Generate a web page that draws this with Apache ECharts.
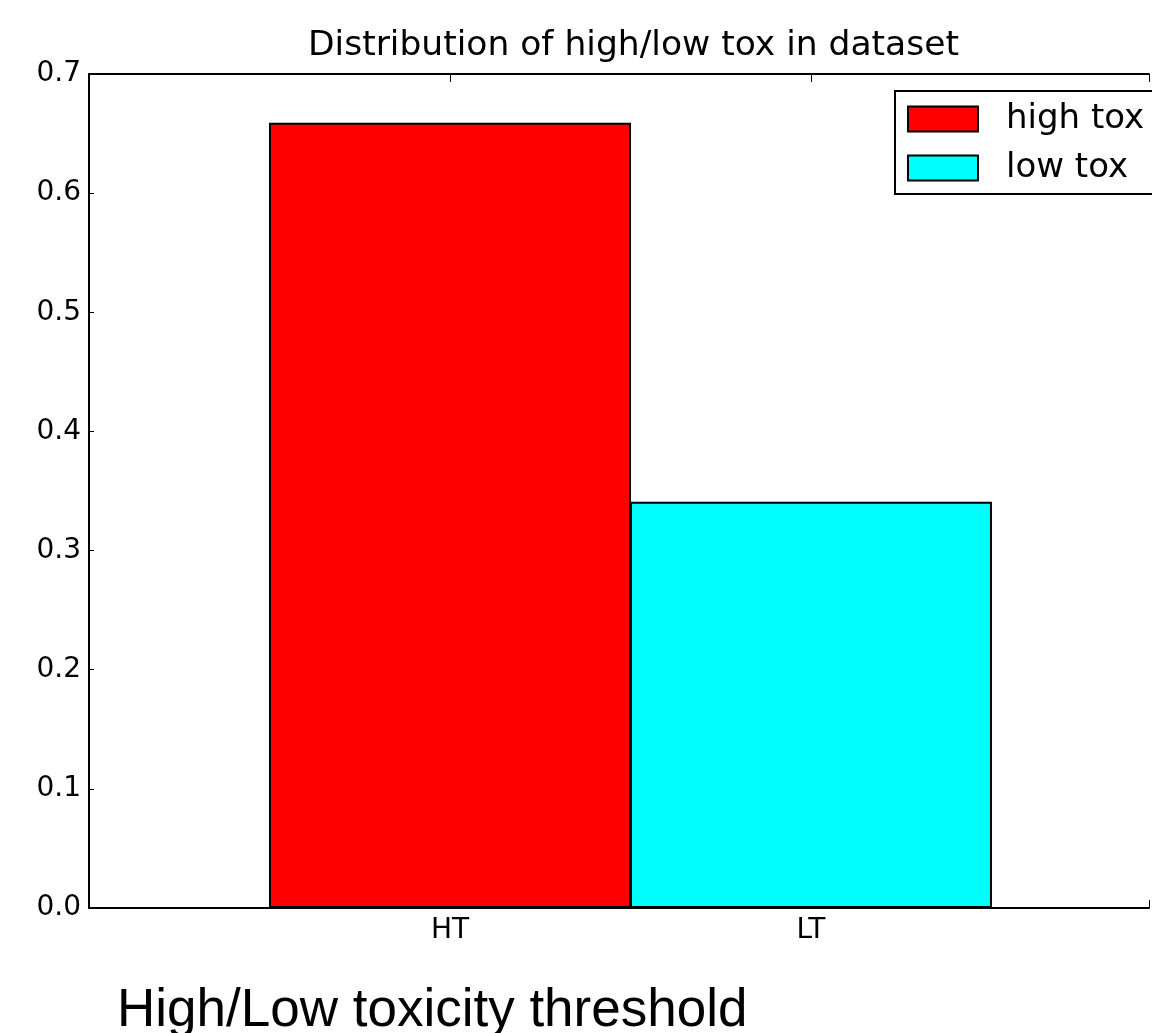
<!DOCTYPE html>
<html>
<head>
<meta charset="utf-8">
<title>Distribution of high/low tox in dataset</title>
<script src="https://cdn.jsdelivr.net/npm/echarts@6/dist/echarts.min.js"></script>
<style>
    html, body { margin: 0; padding: 0; background: #fff; }
    #main { width: 1152px; height: 1033px; }
</style>
</head>
<body>
<div id="main"></div>
<script>
// data
var seriesNames = ['high tox', 'low tox'];
var seriesPos = [1, 2];
var seriesValues = [0.659, 0.341];
var seriesColors = ['#ff0000', '#00ffff'];
var xTickNames = ['', 'HT', 'LT', ''];

var chart = echarts.init(document.getElementById('main'));
var font = 'DejaVu Sans';

// the figure is cut at the right edge: x range 0..3 would need 1086px,
// only 1063px of it are on the page
var xMax = 1063 / 362;

var series = seriesNames.map(function (name, i) {
    return {
        name: name,
        type: 'bar',
        barWidth: 362,
        barGap: '-100%',
        itemStyle: {
            color: seriesColors[i],
            borderColor: '#000',
            borderWidth: 2
        },
        data: [[seriesPos[i], seriesValues[i]]]
    };
});

var xBase = {
    type: 'value',
    min: 0,
    max: xMax,
    interval: 1,
    splitLine: { show: false },
    axisLine: { lineStyle: { color: '#000', width: 2 } },
    axisTick: { inside: true, length: 8, lineStyle: { color: '#000', width: 1 } }
};

var option = {
    animation: false,
    backgroundColor: '#fff',
    title: [
        {
            text: 'Distribution of high/low tox in dataset',
            left: 308,
            top: 29,
            padding: 0,
            textStyle: { fontFamily: font, fontSize: 34.5, fontWeight: 'normal', color: '#000' }
        },
        {
            text: 'High/Low toxicity threshold',
            left: 117,
            top: 985,
            padding: 0,
            textStyle: { fontFamily: 'Liberation Sans', fontSize: 53, fontWeight: 'normal', color: '#000' }
        }
    ],
    legend: {
        orient: 'vertical',
        left: 895,
        top: 91,
        padding: [11, 12, 9, 12],
        itemWidth: 70,
        itemHeight: 25,
        itemGap: 15,
        icon: 'rect',
        borderColor: '#000',
        borderWidth: 2,
        borderRadius: 0,
        backgroundColor: '#fff',
        textStyle: { fontFamily: font, fontSize: 34, color: '#000', padding: [0, 0, 0, 23] },
        data: seriesNames
    },
    grid: { left: 89, top: 74, right: 0, height: 834, containLabel: false },
    xAxis: [
        Object.assign({}, xBase, {
            position: 'bottom',
            axisLabel: {
                margin: 9,
                fontFamily: font,
                fontSize: 28,
                color: '#000',
                formatter: function (v) { return xTickNames[v] || ''; }
            }
        }),
        Object.assign({}, xBase, {
            position: 'top',
            axisLabel: { show: false }
        })
    ],
    yAxis: {
        type: 'value',
        min: 0,
        max: 0.7,
        interval: 0.1,
        splitLine: { show: false },
        axisLine: { show: true, lineStyle: { color: '#000', width: 2 } },
        axisTick: { show: true, inside: true, length: 5, lineStyle: { color: '#000', width: 1 } },
        axisLabel: {
            margin: 8,
            fontFamily: font,
            fontSize: 28,
            color: '#000',
            formatter: function (v) { return v.toFixed(1); }
        }
    },
    series: series
};

chart.setOption(option);
</script>
</body>
</html>
